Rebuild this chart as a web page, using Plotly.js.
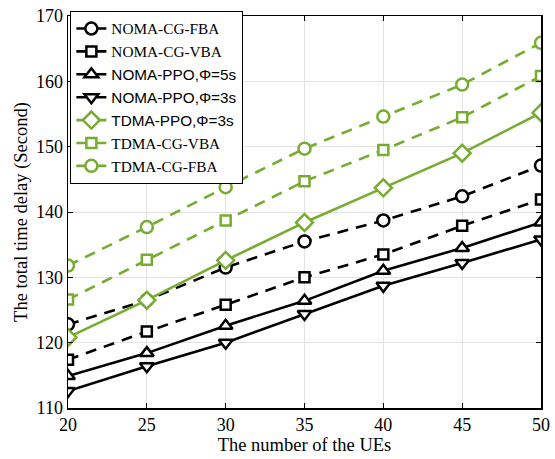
<!DOCTYPE html>
<html><head><meta charset="utf-8">
<script src="https://cdn.plot.ly/plotly-3.0.1.min.js"></script>
<style>body{margin:0;background:#fff}#c{width:555px;height:459px}</style>
</head><body><div id="c"></div>
<script>
const ues = [20, 25, 30, 35, 40, 45, 50];
const nomaCgFba = [122.8, 126.5, 131.5, 135.5, 138.7, 142.4, 147.1];
const nomaCgVba = [117.4, 121.7, 125.8, 130.0, 133.5, 137.9, 141.9];
const nomaPpo5 = [114.9, 118.4, 122.6, 126.4, 131.0, 134.5, 138.4];
const nomaPpo3 = [112.6, 116.4, 120.0, 124.4, 128.7, 132.2, 135.8];
const tdmaPpo3 = [120.8, 126.5, 132.6, 138.4, 143.7, 149.0, 155.2];
const tdmaCgVba = [126.6, 132.7, 138.7, 144.7, 149.5, 154.5, 160.8];
const tdmaCgFba = [131.8, 137.7, 143.8, 149.7, 154.6, 159.5, 165.9];
const names = ['NOMA-CG-FBA','NOMA-CG-VBA','NOMA-PPO,Φ=5s','NOMA-PPO,Φ=3s','TDMA-PPO,Φ=3s','TDMA-CG-VBA','TDMA-CG-FBA'];

const black = '#000000', green = '#77AC30';
const serif = 'Liberation Serif, Times New Roman, serif';
const sizes = {circle: 12, square: 10, 'triangle-up': 12, 'triangle-down': 12, diamond: 13};
function tr(y, name, color, dash, symbol, sansName){
  return {x: ues, y: y, type: 'scatter', mode: 'lines+markers',
    name: sansName ? '<span style="font-family:Liberation Sans, Arial, sans-serif">'+name+'</span>' : name,
    line: {color: color, width: 2.6, dash: dash},
    marker: {symbol: symbol, size: sizes[symbol], color: '#ffffff', line: {color: color, width: 2.5}}};
}
const dsh = '11px,8px';
const data = [
  tr(nomaCgFba, names[0], black, dsh, 'circle', false),
  tr(nomaCgVba, names[1], black, dsh, 'square', false),
  tr(nomaPpo5, names[2], black, 'solid', 'triangle-up', true),
  tr(nomaPpo3, names[3], black, 'solid', 'triangle-down', true),
  tr(tdmaPpo3, names[4], green, 'solid', 'diamond', true),
  tr(tdmaCgVba, names[5], green, dsh, 'square', false),
  tr(tdmaCgFba, names[6], green, dsh, 'circle', false)
];
const layout = {
  width: 555, height: 459,
  margin: {l: 68, r: 14, t: 15, b: 51},
  paper_bgcolor: '#fff', plot_bgcolor: '#fff',
  font: {family: serif, size: 15, color: '#000'},
  showlegend: true,
  legend: {x: 0.005, y: 1.01, xanchor: 'left', yanchor: 'top', bgcolor: '#fff',
    bordercolor: '#000', borderwidth: 1, font: {family: serif, size: 15.3, color: '#000'},
    tracegroupgap: 0, itemwidth: 30},
  xaxis: {range: [20, 50], tickvals: ues, ticks: 'inside', ticklen: 5, tickcolor: '#000',
    showline: true, mirror: 'ticks', linecolor: '#000', linewidth: 1.5,
    showgrid: true, gridcolor: '#e3e3e3', gridwidth: 1, zeroline: false, automargin: false,
    tickfont: {family: serif, size: 18},
    title: {text: 'The number of the UEs', font: {family: serif, size: 18.5}, standoff: 1}},
  yaxis: {range: [110, 170], dtick: 10, ticks: 'inside', ticklen: 5, tickcolor: '#000',
    showline: true, mirror: 'ticks', linecolor: '#000', linewidth: 1.5,
    showgrid: true, gridcolor: '#e3e3e3', gridwidth: 1, zeroline: false, automargin: false,
    tickfont: {family: serif, size: 18},
    title: {text: 'The total time delay (Second)', font: {family: serif, size: 18.5}, standoff: 3}}
};
Plotly.newPlot('c', data, layout, {displayModeBar: false, staticPlot: true});
</script></body></html>
